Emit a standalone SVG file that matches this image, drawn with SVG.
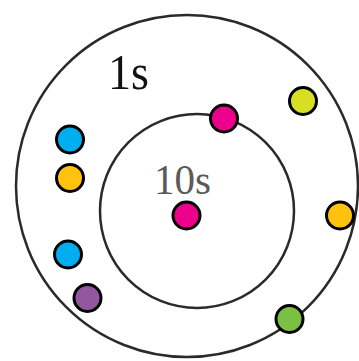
<svg xmlns="http://www.w3.org/2000/svg" width="359" height="361" viewBox="0 0 359 361">
<style>
.ring{fill:none;stroke:#2a2a2a;stroke-width:2.5}
.dot{stroke:#000;stroke-width:3}
.lbl{font-family:"Liberation Serif",serif}
</style>
<rect width="359" height="361" fill="#fff"/>
<g id="outer"><circle class="ring" cx="187" cy="186" r="171"/><text class="lbl" x="108" y="89" font-size="50" fill="#111" textLength="41" lengthAdjust="spacingAndGlyphs">1s</text></g>
<g id="inner"><circle class="ring" cx="197" cy="211" r="97"/><text class="lbl" x="154" y="194" font-size="42" fill="#5a5a5a" textLength="57" lengthAdjust="spacingAndGlyphs">10s</text></g>
<g id="dots">
<circle class="dot" cx="224" cy="118.5" r="13.5" fill="#EC008C"/>
<circle class="dot" cx="186.5" cy="215.5" r="13.5" fill="#EC008C"/>
<circle class="dot" cx="303" cy="101" r="13.5" fill="#D7DF23"/>
<circle class="dot" cx="70" cy="139.5" r="13.5" fill="#00AEEF"/>
<circle class="dot" cx="70" cy="178" r="13.5" fill="#FFC20E"/>
<circle class="dot" cx="340" cy="215.5" r="13.5" fill="#FFC20E"/>
<circle class="dot" cx="68" cy="254.5" r="13.5" fill="#00AEEF"/>
<circle class="dot" cx="87.5" cy="298" r="13.5" fill="#92579F"/>
<circle class="dot" cx="289.5" cy="319" r="13.5" fill="#7AC143"/>
</g>
</svg>
